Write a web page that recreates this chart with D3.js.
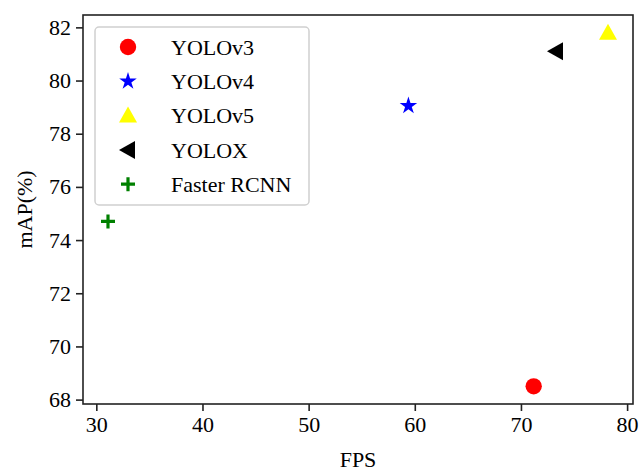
<!DOCTYPE html>
<html>
<head>
<meta charset="utf-8">
<script src="https://cdn.jsdelivr.net/npm/d3@7"></script>
<style>
  html, body { margin: 0; padding: 0; background: #fff; }
  svg { display: block; }
  svg text { font-family: "Liberation Serif", "DejaVu Serif", serif; }
</style>
</head>
<body>
<svg id="chart" width="639" height="471"></svg>
<script>
// models and their measurements
const models = ["YOLOv3", "YOLOv4", "YOLOv5", "YOLOX", "Faster RCNN"];
const fps = [71.2, 59.4, 78.2, 73.3, 31.1];
const mAP = [68.5, 79.05, 81.8, 81.1, 74.7];
const colors = ["#ff0000", "#0000ff", "#ffff00", "#000000", "#008000"];
const shapes = ["circle", "star", "triangleUp", "triangleLeft", "plus"];
const xTicks = [30, 40, 50, 60, 70, 80];
const yTicks = [68, 70, 72, 74, 76, 78, 80, 82];

const FONT = "'Liberation Serif', 'Times New Roman', serif";
const FS = 22;

const svg = d3.select("#chart");
const m = {l:83, r:6, t:15, b:67};
const W = 639, H = 471;

// matplotlib style 5% padding
const xPad = (d3.max(fps) - d3.min(fps)) * 0.05;
const yPad = (d3.max(mAP) - d3.min(mAP)) * 0.05;
const x = d3.scaleLinear().domain([d3.min(fps) - xPad, d3.max(fps) + xPad]).range([m.l, W - m.r]);
const y = d3.scaleLinear().domain([d3.min(mAP) - yPad, d3.max(mAP) + yPad]).range([H - m.b, m.t]);

function markerPath(shape){
  if(shape === "circle") return d3.symbol(d3.symbolCircle, 210)();
  if(shape === "star") return d3.symbol(d3.symbolStar, 95)();
  if(shape === "triangleUp") return "M0,-9L9,7L-9,7Z";
  if(shape === "triangleLeft") return "M-9,0L7,-9L7,9Z";
  return null;
}

function drawMarker(g, i){
  const s = shapes[i];
  if(s === "plus"){
    g.append("path").attr("d", "M-7,0H7M0,-7V7")
      .attr("stroke", colors[i]).attr("stroke-width", 3.2).attr("fill", "none");
  } else {
    g.append("path").attr("d", markerPath(s)).attr("fill", colors[i]);
  }
}

// axes
const xAxis = svg.append("g")
  .attr("transform", `translate(0,${H - m.b})`)
  .call(d3.axisBottom(x).tickValues(xTicks).tickSize(7).tickPadding(5).tickSizeOuter(0));
const yAxis = svg.append("g")
  .attr("transform", `translate(${m.l},0)`)
  .call(d3.axisLeft(y).tickValues(yTicks).tickSize(7).tickPadding(5).tickSizeOuter(0));
[xAxis, yAxis].forEach(a=>{
  a.attr("font-family", FONT).attr("font-size", FS);
  a.selectAll("text").attr("fill", "#000");
  a.selectAll(".tick line").attr("stroke", "#222").attr("stroke-width", 1.6);
  a.select(".domain").remove();
});

// frame
svg.append("rect")
  .attr("x", m.l).attr("y", m.t)
  .attr("width", W - m.r - m.l).attr("height", H - m.b - m.t)
  .attr("fill", "none").attr("stroke", "#222").attr("stroke-width", 1.6);

// points
models.forEach((name, i)=>{
  const g = svg.append("g").attr("transform", `translate(${x(fps[i])},${y(mAP[i])})`);
  drawMarker(g, i);
});

// axis labels
svg.append("text")
  .attr("x", (m.l + W - m.r)/2).attr("y", 467)
  .attr("text-anchor", "middle").attr("font-family", FONT).attr("font-size", FS).text("FPS");
svg.append("text")
  .attr("transform", `translate(32,${(m.t + H - m.b)/2}) rotate(-90)`)
  .attr("text-anchor", "middle").attr("font-family", FONT).attr("font-size", FS).text("mAP(%)");

// legend
const lg = svg.append("g");
lg.append("rect")
  .attr("x", 95).attr("y", 27).attr("width", 214).attr("height", 178)
  .attr("rx", 4).attr("fill", "#fff").attr("fill-opacity", 0.8)
  .attr("stroke", "#d0d0d0").attr("stroke-width", 1.5);
models.forEach((name, i)=>{
  const yy = 47 + i * 34.3;
  const g = lg.append("g").attr("transform", `translate(128,${yy})`);
  drawMarker(g, i);
  lg.append("text").attr("x", 171).attr("y", yy).attr("dy", "0.35em")
    .attr("font-family", FONT).attr("font-size", FS).text(name);
});
</script>
</body>
</html>
